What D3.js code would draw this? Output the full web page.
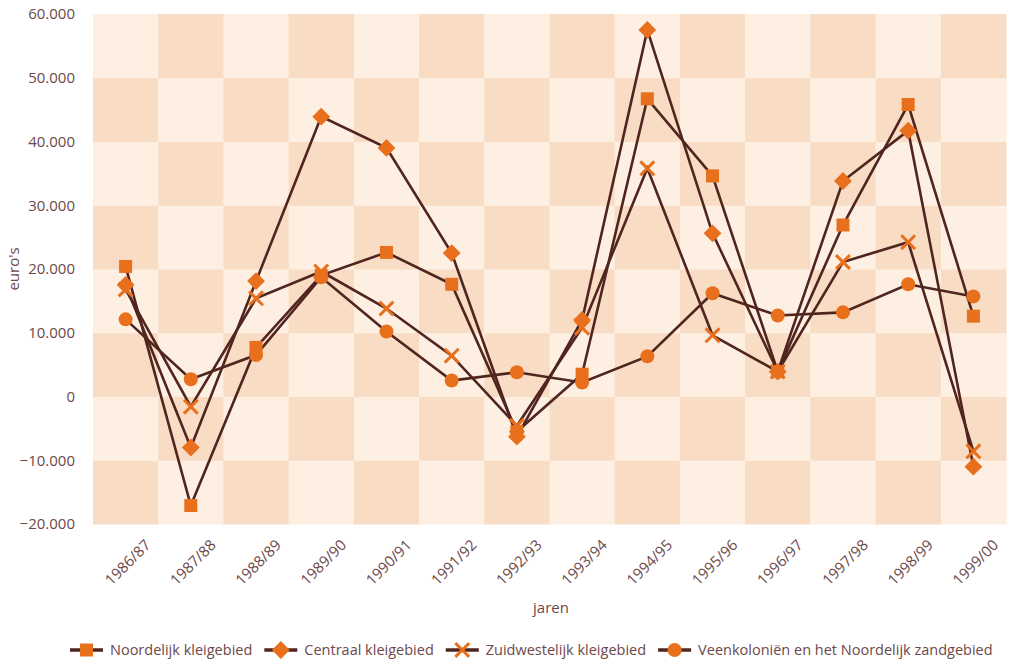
<!DOCTYPE html>
<html>
<head>
<meta charset="utf-8">
<script src="https://cdn.jsdelivr.net/npm/d3@7"></script>
<style>
  body { margin: 0; background: #fff; }
  text { font-family: "Open Sans", "Noto Sans", sans-serif; fill: #6d4849; }
</style>
</head>
<body>
<div id="wrapper"></div>
<script>
const years = ["1986/87", "1987/88", "1988/89", "1989/90", "1990/91", "1991/92", "1992/93",
  "1993/94", "1994/95", "1995/96", "1996/97", "1997/98", "1998/99", "1999/00"]
const noordelijk = [20400, -17100, 7700, 19000, 22600, 17600, -5500, 3500, 46700, 34600, 3900, 26900, 45800, 12600]
const centraal = [17500, -8000, 18100, 43900, 39000, 22500, -6300, 12000, 57500, 25600, 3900, 33800, 41700, -11000]
const zuidwestelijk = [16800, -1600, 15400, 19600, 13800, 6400, -4600, 10800, 35800, 9600, 3900, 21100, 24200, -8600]
const veenkolonien = [12100, 2700, 6500, 18700, 10200, 2500, 3800, 2200, 6300, 16200, 12700, 13200, 17600, 15700]
const yTicks = [-20000, -10000, 0, 10000, 20000, 30000, 40000, 50000, 60000]

const series = [
  { name: "Noordelijk kleigebied", values: noordelijk, marker: "square" },
  { name: "Centraal kleigebied", values: centraal, marker: "diamond" },
  { name: "Zuidwestelijk kleigebied", values: zuidwestelijk, marker: "cross" },
  { name: "Veenkoloniën en het Noordelijk zandgebied", values: veenkolonien, marker: "circle" },
]

const lineColor = "#50241f"
const markerColor = "#e8701c"
const lightCell = "#fdf0e2"
const darkCell = "#f8dcc4"

let dimensions = {
  width: 1015,
  height: 661,
  margin: { top: 14, right: 9, bottom: 137, left: 93 }
}
dimensions.boundedWidth = dimensions.width - dimensions.margin.left - dimensions.margin.right
dimensions.boundedHeight = dimensions.height - dimensions.margin.top - dimensions.margin.bottom

const wrapper = d3.select("#wrapper")
  .append("svg")
    .attr("width", dimensions.width)
    .attr("height", dimensions.height)
const bounds = wrapper.append("g")
  .attr("transform", `translate(${dimensions.margin.left},${dimensions.margin.top})`)

const xScale = d3.scaleBand()
  .domain(years)
  .range([0, dimensions.boundedWidth])
  .padding(0)
const yScale = d3.scaleLinear()
  .domain([-20000, 60000])
  .range([dimensions.boundedHeight, 0])

const xPos = i => xScale(years[i]) + xScale.bandwidth() / 2

// checkered background, one cell per year and per 10.000
const cells = []
years.forEach((yr, i) => {
  yTicks.slice(0, -1).forEach((t, j) => {
    cells.push({ yr, lo: t, hi: t + 10000, dark: (i + (yTicks.length - 2 - j)) % 2 === 1 })
  })
})
bounds.append("g").selectAll("rect")
  .data(cells)
  .join("rect")
    .attr("x", d => xScale(d.yr))
    .attr("width", xScale.bandwidth() + 0.5)
    .attr("y", d => yScale(d.hi))
    .attr("height", d => yScale(d.lo) - yScale(d.hi) + 0.5)
    .attr("fill", d => d.dark ? darkCell : lightCell)

// y axis
const nl = d3.formatLocale({ decimal: ",", thousands: ".", grouping: [3], currency: ["€", ""] })
const yAxis = d3.axisLeft(yScale)
  .tickValues(yTicks)
  .tickFormat(nl.format(","))
  .tickSize(0)
  .tickPadding(18)
const yAxisG = bounds.append("g").call(yAxis)
yAxisG.select(".domain").remove()
yAxisG.selectAll("text")
  .style("font-size", "15px")
  .attr("fill", "#6d4849")

// x axis
const xAxis = d3.axisBottom(xScale).tickSize(0).tickPadding(0)
const xAxisG = bounds.append("g")
  .attr("transform", `translate(0,${dimensions.boundedHeight})`)
  .call(xAxis)
xAxisG.select(".domain").remove()
xAxisG.selectAll("text")
  .style("font-size", "15px")
  .attr("fill", "#6d4849")
  .attr("text-anchor", "end")
  .attr("dy", 0)
  .attr("y", 0)
  .attr("transform", "translate(26,22) rotate(-45)")

// axis titles
wrapper.append("text")
  .attr("transform", `translate(19,${dimensions.margin.top + dimensions.boundedHeight / 2}) rotate(-90)`)
  .attr("text-anchor", "middle")
  .style("font-size", "15px")
  .text("euro's")
wrapper.append("text")
  .attr("x", 551)
  .attr("y", 613)
  .attr("text-anchor", "middle")
  .style("font-size", "15px")
  .text("jaren")

// markers
const drawMarker = (g, type, size) => {
  const s = size
  if (type === "square") {
    g.append("rect").attr("x", -s / 2).attr("y", -s / 2).attr("width", s).attr("height", s)
      .attr("fill", markerColor)
  } else if (type === "diamond") {
    g.append("path").attr("d", d3.symbol(d3.symbolDiamond2, s * s * 1.2)())
      .attr("fill", markerColor)
  } else if (type === "cross") {
    g.append("path").attr("d", d3.symbol(d3.symbolTimes, s * s * 0.75)())
      .attr("fill", "none")
      .attr("stroke", markerColor)
      .attr("stroke-width", 3)
  } else {
    g.append("circle").attr("r", s / 2 + 0.5).attr("fill", markerColor)
  }
}

const lineGenerator = d3.line()
  .x((d, i) => xPos(i))
  .y(d => yScale(d))

bounds.append("g").selectAll("path")
  .data(series)
  .join("path")
    .attr("d", d => lineGenerator(d.values))
    .attr("fill", "none")
    .attr("stroke", lineColor)
    .attr("stroke-width", 2.6)

series.forEach(s => {
  bounds.append("g").selectAll("g")
    .data(s.values)
    .join("g")
      .attr("transform", (d, i) => `translate(${xPos(i)},${yScale(d)})`)
      .each(function () { drawMarker(d3.select(this), s.marker, 13) })
})

// legend
const legend = wrapper.append("g").attr("transform", "translate(70,650)")
let lx = 0
series.forEach(s => {
  const item = legend.append("g").attr("transform", `translate(${lx},0)`)
  item.append("line")
    .attr("x1", 0).attr("x2", 33)
    .attr("stroke", lineColor).attr("stroke-width", 3.5)
  const m = item.append("g").attr("transform", "translate(16.5,0)")
  drawMarker(m, s.marker, 13)
  const t = item.append("text")
    .attr("x", 40)
    .attr("dy", "0.35em")
    .style("font-size", "14.5px")
    .text(s.name)
  lx += 40 + t.node().getComputedTextLength() + 12
})
</script>
</body>
</html>
